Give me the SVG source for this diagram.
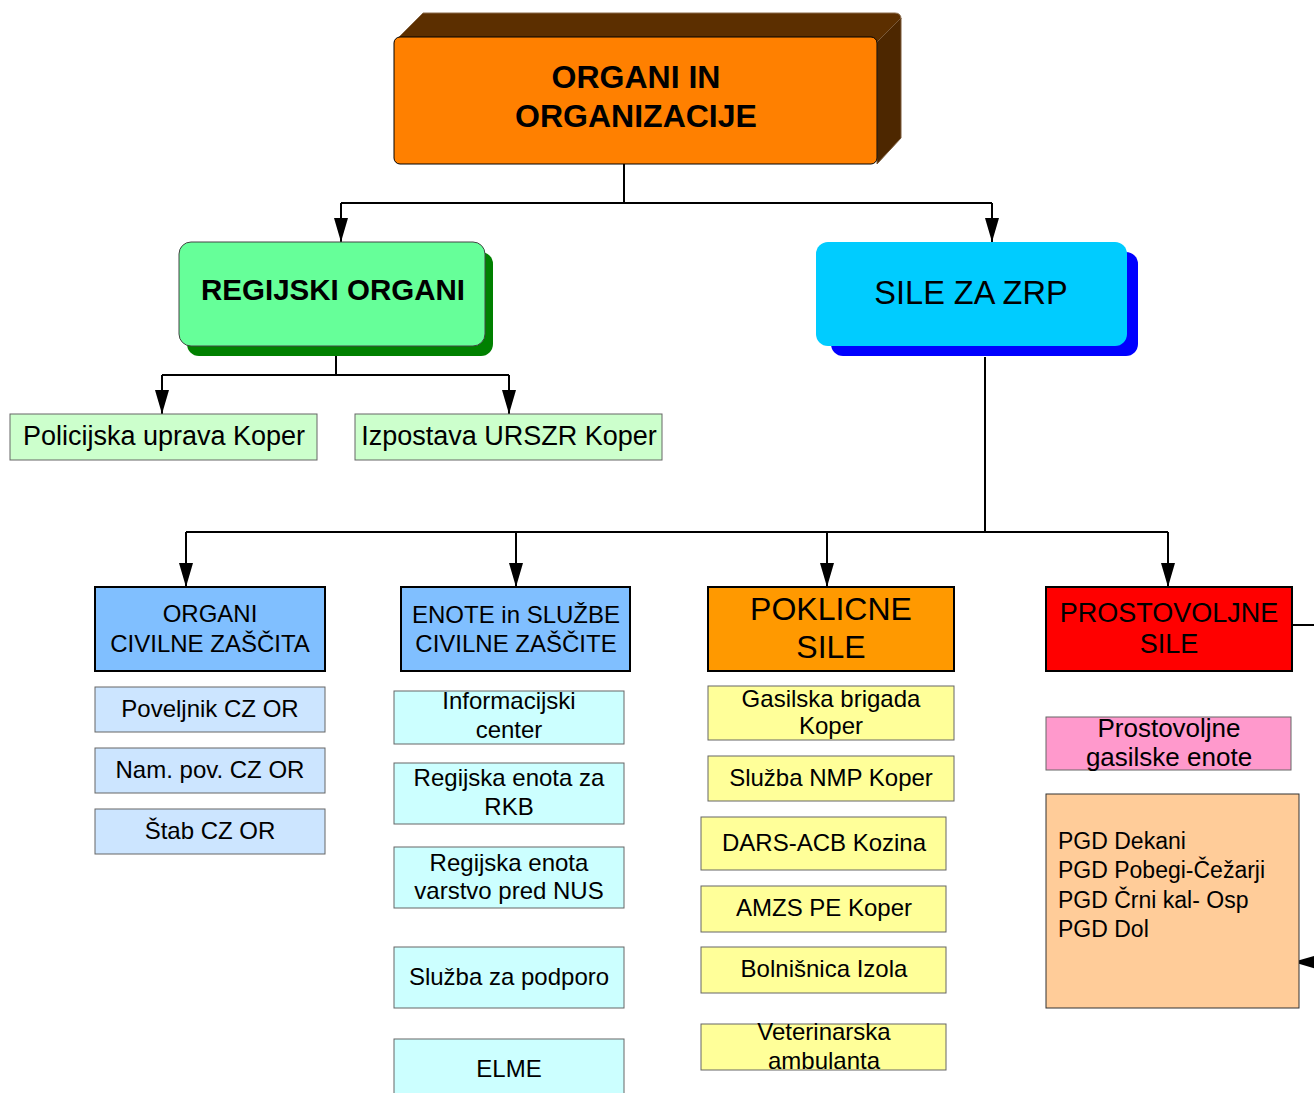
<svg xmlns="http://www.w3.org/2000/svg" width="1314" height="1093" viewBox="0 0 1314 1093">
<defs>
<marker id="arr" markerUnits="userSpaceOnUse" markerWidth="24" markerHeight="14" refX="24" refY="7" orient="auto" viewBox="0 0 24 14">
<path d="M0,0 L24,7 L0,14 z" fill="#000"/>
</marker>
<style>
text{font-family:"Liberation Sans",Arial,sans-serif;fill:#000;text-anchor:middle}
.b{font-weight:bold}
.sm{stroke:#666;stroke-width:1}
.hd{stroke:#000;stroke-width:2}
.cn{fill:none;stroke:#000;stroke-width:2}
.f24{font-size:24px}
</style>
</defs>
<rect width="1314" height="1093" fill="#fff"/>

<g id="connectors">
<path class="cn" d="M624,164 V203 M341,203 H992"/>
<path class="cn" d="M341,203 V242" marker-end="url(#arr)"/>
<path class="cn" d="M992,203 V242" marker-end="url(#arr)"/>
<path class="cn" d="M336,346 V375 M162,375 H509"/>
<path class="cn" d="M162,375 V414" marker-end="url(#arr)"/>
<path class="cn" d="M509,375 V414" marker-end="url(#arr)"/>
<path class="cn" d="M985,357 V532 M186,532 H1168"/>
<path class="cn" d="M186,532 V587" marker-end="url(#arr)"/>
<path class="cn" d="M516,532 V587" marker-end="url(#arr)"/>
<path class="cn" d="M827,532 V587" marker-end="url(#arr)"/>
<path class="cn" d="M1168,532 V587" marker-end="url(#arr)"/>
<path class="cn" d="M1292,625 H1314"/>
<path class="cn" d="M1330,962 H1293" marker-end="url(#arr)"/>
</g>

<g id="n-top">
<path d="M394,42 L423,13 L895,13 Q901,13 901,19 L877,43 Z" fill="#5c2f00" stroke="#8a6a4a" stroke-width="1"/>
<path d="M877,42 L901,18 L901,138 L877,164 Z" fill="#4d2700" stroke="#7a5a3a" stroke-width="1"/>
<rect x="394" y="37" width="483" height="127" rx="6" fill="#ff8000" stroke="#000" stroke-width="1"/>
<text class="b" x="636" y="88" font-size="32">ORGANI IN</text>
<text class="b" x="636" y="127" font-size="32">ORGANIZACIJE</text>
</g>

<g id="n-regijski">
<rect x="187" y="252" width="306" height="104" rx="12" fill="#008000"/>
<rect x="179" y="242" width="306" height="104" rx="12" fill="#66ff99" stroke="#444" stroke-width="1"/>
<text class="b" x="333" y="300" font-size="29.5">REGIJSKI ORGANI</text>
</g>

<g id="n-sile">
<rect x="831" y="252" width="307" height="104" rx="12" fill="#0000ff"/>
<rect x="816" y="242" width="311" height="104" rx="12" fill="#00ccff"/>
<text x="971" y="304" font-size="32.5">SILE ZA ZRP</text>
</g>

<g id="n-policija">
<rect class="sm" x="10" y="414" width="307" height="46" fill="#ccffcc"/>
<text x="164" y="445" font-size="27">Policijska uprava Koper</text>
</g>
<g id="n-urszr">
<rect class="sm" x="355" y="414" width="307" height="46" fill="#ccffcc"/>
<text x="509" y="445" font-size="27">Izpostava URSZR Koper</text>
</g>

<g id="n-organi-cz">
<rect class="hd" x="95" y="587" width="230" height="84" fill="#80bfff"/>
<text class="f24" x="210" y="622">ORGANI</text>
<text class="f24" x="210" y="652">CIVILNE ZAŠČITA</text>
</g>
<g id="n-poveljnik">
<rect class="sm" x="95" y="687" width="230" height="45" fill="#cce5ff"/>
<text class="f24" x="210" y="717">Poveljnik CZ OR</text>
</g>
<g id="n-nampov">
<rect class="sm" x="95" y="748" width="230" height="45" fill="#cce5ff"/>
<text class="f24" x="210" y="778">Nam. pov. CZ OR</text>
</g>
<g id="n-stab">
<rect class="sm" x="95" y="809" width="230" height="45" fill="#cce5ff"/>
<text class="f24" x="210" y="839">Štab CZ OR</text>
</g>

<g id="n-enote">
<rect class="hd" x="401" y="587" width="229" height="84" fill="#80bfff"/>
<text class="f24" x="516" y="623">ENOTE in SLUŽBE</text>
<text class="f24" x="516" y="652">CIVILNE ZAŠČITE</text>
</g>
<g id="n-info">
<rect class="sm" x="394" y="691" width="230" height="53" fill="#ccffff"/>
<text class="f24" x="509" y="709">Informacijski</text>
<text class="f24" x="509" y="738">center</text>
</g>
<g id="n-rkb">
<rect class="sm" x="394" y="763" width="230" height="61" fill="#ccffff"/>
<text class="f24" x="509" y="786">Regijska enota za</text>
<text class="f24" x="509" y="815">RKB</text>
</g>
<g id="n-nus">
<rect class="sm" x="394" y="847" width="230" height="61" fill="#ccffff"/>
<text class="f24" x="509" y="871">Regijska enota</text>
<text class="f24" x="509" y="899">varstvo pred NUS</text>
</g>
<g id="n-podpora">
<rect class="sm" x="394" y="947" width="230" height="61" fill="#ccffff"/>
<text class="f24" x="509" y="985">Služba za podporo</text>
</g>
<g id="n-elme">
<rect class="sm" x="394" y="1039" width="230" height="60" fill="#ccffff"/>
<text class="f24" x="509" y="1077">ELME</text>
</g>

<g id="n-poklicne">
<rect class="hd" x="708" y="587" width="246" height="84" fill="#ff9900"/>
<text x="831" y="620" font-size="32">POKLICNE</text>
<text x="831" y="658" font-size="32">SILE</text>
</g>
<g id="n-gb">
<rect class="sm" x="708" y="686" width="246" height="54" fill="#ffff99"/>
<text class="f24" x="831" y="707">Gasilska brigada</text>
<text class="f24" x="831" y="734">Koper</text>
</g>
<g id="n-nmp">
<rect class="sm" x="708" y="756" width="246" height="45" fill="#ffff99"/>
<text class="f24" x="831" y="786">Služba NMP Koper</text>
</g>
<g id="n-dars">
<rect class="sm" x="701" y="817" width="245" height="53" fill="#ffff99"/>
<text class="f24" x="824" y="851">DARS-ACB Kozina</text>
</g>
<g id="n-amzs">
<rect class="sm" x="701" y="886" width="245" height="46" fill="#ffff99"/>
<text class="f24" x="824" y="916">AMZS PE Koper</text>
</g>
<g id="n-bolnisnica">
<rect class="sm" x="701" y="947" width="245" height="46" fill="#ffff99"/>
<text class="f24" x="824" y="977">Bolnišnica Izola</text>
</g>
<g id="n-vet">
<rect class="sm" x="701" y="1024" width="245" height="46" fill="#ffff99"/>
<text class="f24" x="824" y="1040">Veterinarska</text>
<text class="f24" x="824" y="1069">ambulanta</text>
</g>

<g id="n-prostovoljne">
<rect class="hd" x="1046" y="587" width="246" height="84" fill="#ff0000"/>
<text x="1169" y="622" font-size="27">PROSTOVOLJNE</text>
<text x="1169" y="653" font-size="27">SILE</text>
</g>
<g id="n-pge">
<rect class="sm" x="1046" y="717" width="245" height="53" fill="#ff99cc"/>
<text x="1169" y="737" font-size="26">Prostovoljne</text>
<text x="1169" y="766" font-size="26">gasilske enote</text>
</g>
<g id="n-pgd">
<rect x="1046" y="794" width="253" height="214" fill="#ffcc99" stroke="#333" stroke-width="1"/>
<text x="1058" y="849" font-size="23" style="text-anchor:start">PGD Dekani</text>
<text x="1058" y="878" font-size="23" style="text-anchor:start">PGD Pobegi-Čežarji</text>
<text x="1058" y="908" font-size="23" style="text-anchor:start">PGD Črni kal- Osp</text>
<text x="1058" y="937" font-size="23" style="text-anchor:start">PGD Dol</text>
</g>
</svg>
